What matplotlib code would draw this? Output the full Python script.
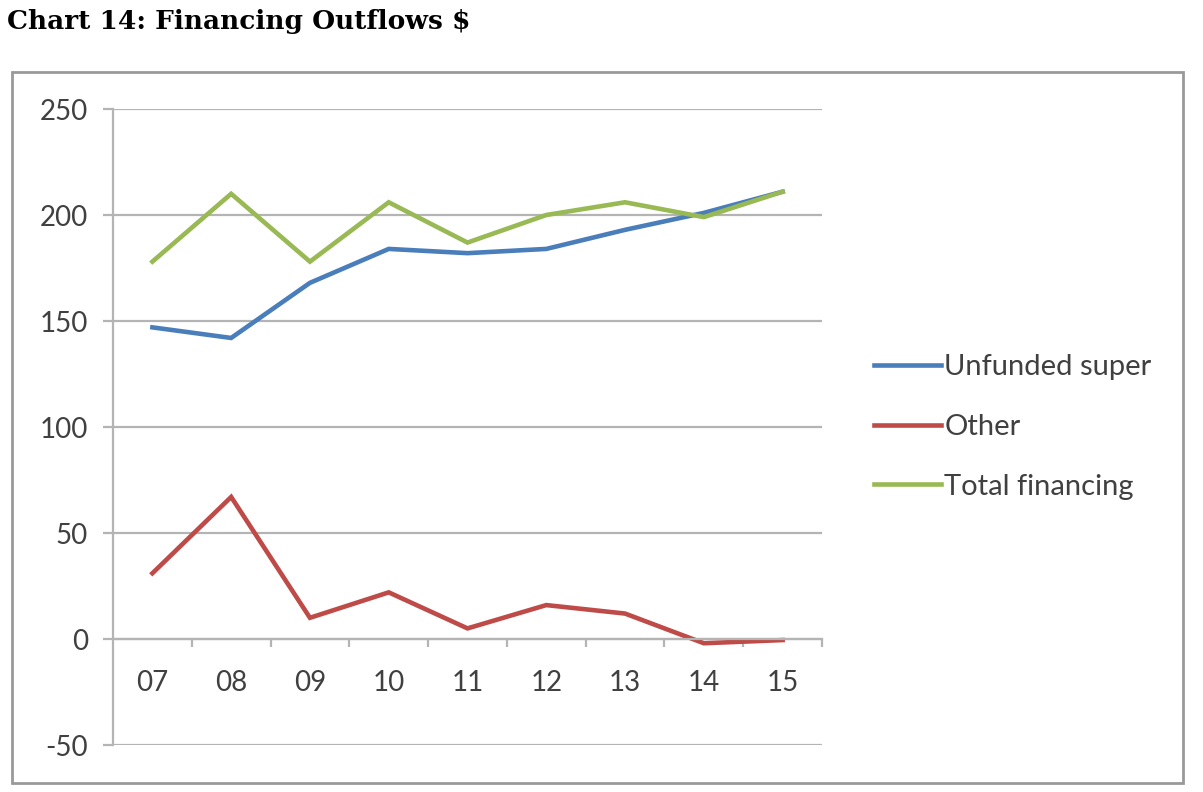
import numpy as np
import matplotlib
matplotlib.use('Agg')
import matplotlib.pyplot as plt
from matplotlib.patches import Rectangle

plt.rcParams['font.family'] = 'Lato'
plt.rcParams['axes.unicode_minus'] = False

## Datos
years = ['07', '08', '09', '10', '11', '12', '13', '14', '15']
unfunded_super = [147, 142, 168, 184, 182, 184, 193, 201, 211]
other = [31, 67, 10, 22, 5, 16, 12, -2, -0.5]
total_financing = [178, 210, 178, 206, 187, 200, 206, 199, 211]

blue = '#4a7ebb'
red = '#be4b48'
green = '#98b954'
grid_col = '#b4b4b4'

fig = plt.figure(figsize=(12.03, 7.92), dpi=100)
ax = fig.add_axes([113/1203, 1-745/792, 709/1203, 636/792])

x = np.arange(len(years))
ax.plot(x, unfunded_super, color=blue, lw=3.3, label='Unfunded super', solid_joinstyle='miter')
ax.plot(x, other, color=red, lw=3.3, label='Other', solid_joinstyle='miter')
ax.plot(x, total_financing, color=green, lw=3.3, label='Total financing', solid_joinstyle='miter')

ax.set_xlim(-0.5, len(years) - 0.5)
ax.set_ylim(-50, 250)
ax.set_yticks(np.arange(-50, 251, 50))
ax.yaxis.grid(True, color=grid_col, lw=1.6)
ax.set_axisbelow(True)

for s in ['top', 'right']:
    ax.spines[s].set_visible(False)
ax.spines['left'].set_color(grid_col)
ax.spines['left'].set_linewidth(1.6)
ax.spines['bottom'].set_position(('data', 0))
ax.spines['bottom'].set_color(grid_col)
ax.spines['bottom'].set_linewidth(1.6)

ax.set_xticks(x)
ax.set_xticklabels(years)
ax.set_xticks(np.arange(0.5, len(years), 1), minor=True)
ax.tick_params(axis='x', which='major', length=0, pad=22, labelsize=20, labelcolor='#404040')
ax.tick_params(axis='x', which='minor', length=6, width=1.6, color=grid_col, direction='out')
ax.tick_params(axis='y', length=7, width=1.6, color=grid_col, pad=11, labelsize=20, labelcolor='#404040')

fig.legend(loc='center left', bbox_to_anchor=(848/1203, 1-427/792), frameon=False,
           fontsize=21, handlelength=2.3, handletextpad=0.1, labelspacing=1.15,
           labelcolor='#404040')

fig.patches.append(Rectangle((12/1203, 1-783/792), 1171/1203, 711/792, transform=fig.transFigure,
                             fill=False, edgecolor='#999999', lw=2))

fig.text(7/1203, 1-21/792, 'Chart 14: Financing Outflows $', family='DejaVu Serif',
         fontweight='bold', fontsize=19, va='center', ha='left')

plt.savefig('out.png', dpi=100)
